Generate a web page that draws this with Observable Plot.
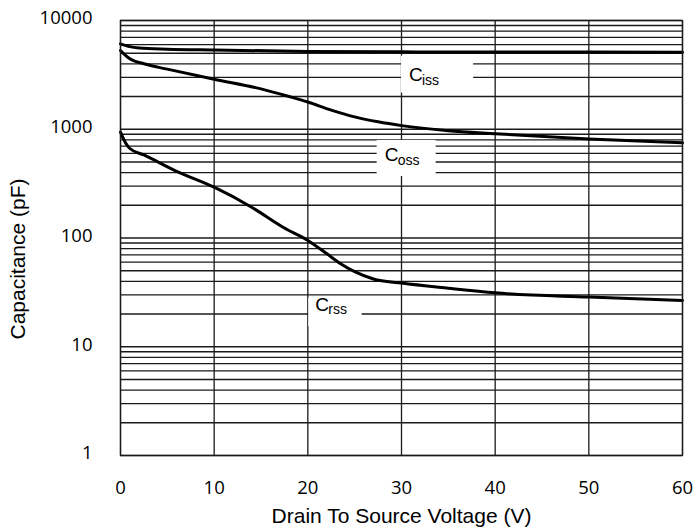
<!DOCTYPE html>
<html>
<head>
<meta charset="utf-8">
<script src="https://cdn.jsdelivr.net/npm/d3@7"></script>
<script src="https://cdn.jsdelivr.net/npm/@observablehq/plot@0.6"></script>
<style>
  html, body { margin: 0; padding: 0; background: #fff; }
  #chart svg { display: block; }
</style>
</head>
<body>
<div id="chart"></div>
<script>
// ---- data ----
const xTicks = [0, 10, 20, 30, 40, 50, 60];
const yTicks = [1, 10, 100, 1000, 10000];
const xLabel = "Drain To Source Voltage (V)";
const yLabel = "Capacitance (pF)";

// [Vds (V), capacitance (pF)]
const ciss = [[0, 6100], [1, 5750], [2, 5600], [5, 5450], [10, 5350], [20, 5200], [30, 5150], [40, 5130], [50, 5120], [60, 5110]];
const coss = [[0, 5300], [0.5, 4800], [1, 4450], [2.5, 4000], [5, 3570], [10, 2880], [15, 2350], [18, 2000], [20, 1780], [22.5, 1500], [25, 1300], [27.5, 1170], [30, 1080], [35, 970], [40, 910], [50, 815], [60, 750]];
const crss = [[0, 940], [0.5, 760], [1, 665], [2.5, 580], [6, 410], [10, 293], [14, 192], [17.4, 125], [20, 95], [22, 72], [23.5, 58], [25, 49], [27, 42], [30, 38.5], [35, 34.5], [40, 31.3], [50, 28.6], [60, 26.6]];

// curve labels: main letter, subscript, anchor (V, pF)
const labelMain = ["C", "C", "C"];
const labelSub = ["iss", "oss", "rss"];
const labelV = [30.8, 28.2, 20.8];
const labelPF = [3150, 575, 24.5];
// white boxes behind labels (V range, pF range)
const boxV1 = [30, 27.4, 20.1];
const boxV2 = [37.7, 33.7, 25.8];
const boxPF1 = [2150, 368, 15.3];
const boxPF2 = [4700, 789, 27.8];

// ---- derived tables ----
const gridY = [];
for (let d = 1; d < 10000; d *= 10) for (let k = 1; k <= 9; k++) gridY.push(d * k);
gridY.push(10000);
const toRows = (arr, name) => arr.map(([v, c]) => ({v, c, name}));
const curves = [...toRows(ciss, "Ciss"), ...toRows(coss, "Coss"), ...toRows(crss, "Crss")];
const labels = labelMain.map((m, i) => ({m, s: labelSub[i], v: labelV[i], c: labelPF[i]}));
const boxes = boxV1.map((v1, i) => ({v1, v2: boxV2[i], c1: boxPF1[i], c2: boxPF2[i]}));

const tickFont = "'Open Sans', 'Noto Sans', sans-serif";
const labelFont = "'Liberation Sans', Arial, sans-serif";

const chart = Plot.plot({
  width: 694,
  height: 531,
  marginLeft: 120,
  marginRight: 12,
  marginTop: 20,
  marginBottom: 76,
  style: {background: "#fff", color: "#000"},
  x: {domain: [0, 60]},
  y: {type: "log", domain: [1, 10000]},
  marks: [
    Plot.ruleY(gridY, {stroke: "#1a1a1a", strokeWidth: 1.3}),
    Plot.ruleX(xTicks, {stroke: "#1a1a1a", strokeWidth: 1.3}),
    Plot.rect(boxes, {x1: "v1", x2: "v2", y1: "c1", y2: "c2", fill: "#fff"}),
    Plot.line(curves, {x: "v", y: "c", z: "name", stroke: "#000", strokeWidth: 3, curve: "monotone-x"}),
    Plot.text(labels, {x: "v", y: "c", text: "m", textAnchor: "start", fontSize: 19, fontFamily: labelFont, fill: "#000"}),
    Plot.text(labels, {x: "v", y: "c", text: "s", textAnchor: "start", dx: 13, dy: 5, fontSize: 14, fontFamily: labelFont, fill: "#000"}),
    Plot.frame({stroke: "#1a1a1a", strokeWidth: 1.3}),
    Plot.axisY({ticks: yTicks, tickSize: 0, tickPadding: 28, tickFormat: d => String(d), fontSize: 18.5, fontFamily: tickFont, dy: -2, label: null}),
    Plot.axisX({ticks: xTicks, tickSize: 0, tickPadding: 25, tickFormat: d => String(d), fontSize: 18.5, fontFamily: tickFont, label: null}),
    Plot.text([xLabel], {frameAnchor: "bottom", textAnchor: "middle", lineAnchor: "middle", dy: 61, fontSize: 21, fontFamily: labelFont, fill: "#000"}),
    Plot.text([yLabel], {frameAnchor: "left", textAnchor: "middle", lineAnchor: "middle", dx: -102, dy: 21, rotate: -90, fontSize: 21, fontFamily: labelFont, fill: "#000"})
  ]
});
document.getElementById("chart").appendChild(chart);
</script>
</body>
</html>
